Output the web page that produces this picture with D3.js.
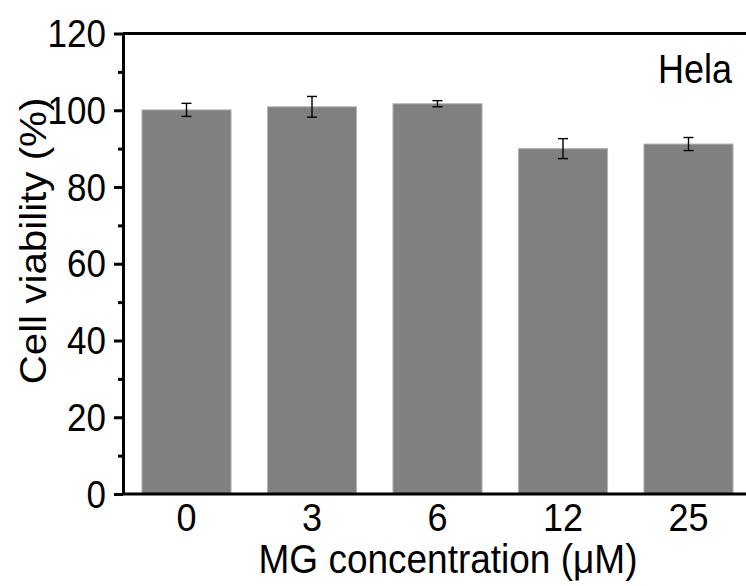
<!DOCTYPE html>
<html>
<head>
<meta charset="utf-8">
<script src="https://cdnjs.cloudflare.com/ajax/libs/d3/7.8.5/d3.min.js"></script>
<style>
  body { margin: 0; background: #fff; }
  svg { display: block; font-family: "Liberation Sans", Arial, sans-serif; }
</style>
</head>
<body>
<div id="chart"></div>
<script>
// data
const concentrations = ["0", "3", "6", "12", "25"];
const viability = [100.1, 100.9, 101.7, 90.0, 91.2];
const errors = [1.7, 2.7, 0.8, 2.6, 1.7];
const yTicks = [0, 20, 40, 60, 80, 100, 120];
const yMinorTicks = [10, 30, 50, 70, 90, 110];

const svgWidth = 746;
const svgHeight = 586;

const margin = { top: 33.5, left: 123, bottom: 494 };

const svg = d3.select("#chart")
  .append("svg")
  .attr("width", svgWidth)
  .attr("height", svgHeight);

const x = d3.scaleBand()
  .domain(concentrations)
  .range([margin.left, 752])
  .paddingInner(0.29)
  .paddingOuter(0.151);

const y = d3.scaleLinear()
  .domain([0, 120])
  .range([margin.bottom, margin.top]);

// bars
svg.selectAll("rect.bar")
  .data(concentrations)
  .enter()
  .append("rect")
  .attr("class", "bar")
  .attr("x", d => x(d))
  .attr("width", x.bandwidth())
  .attr("y", (d, i) => y(viability[i]))
  .attr("height", (d, i) => y(0) - y(viability[i]))
  .attr("fill", "#808080")
  .attr("stroke", "#b4b4b4")
  .attr("stroke-width", 1);

// error bars
const errG = svg.append("g")
  .attr("stroke", "#000")
  .attr("stroke-width", 1.4);

concentrations.forEach((c, i) => {
  const cx = x(c) + x.bandwidth() / 2;
  const hi = y(viability[i] + errors[i]);
  const lo = y(viability[i] - errors[i]);
  errG.append("line").attr("x1", cx).attr("x2", cx).attr("y1", hi).attr("y2", lo);
  errG.append("line").attr("x1", cx - 5).attr("x2", cx + 5).attr("y1", hi).attr("y2", hi);
  errG.append("line").attr("x1", cx - 5).attr("x2", cx + 5).attr("y1", lo).attr("y2", lo);
});

// minor ticks
const minorAxis = svg.append("g")
  .attr("transform", `translate(${margin.left},0)`)
  .call(d3.axisLeft(y).tickValues(yMinorTicks).tickSize(5).tickFormat(""));
minorAxis.select(".domain").remove();
minorAxis.selectAll("line").attr("stroke-width", 3);

// left axis
const leftAxis = svg.append("g")
  .attr("transform", `translate(${margin.left},0)`)
  .call(d3.axisLeft(y).tickValues(yTicks).tickSize(9).tickSizeOuter(0).tickPadding(8));
leftAxis.select(".domain").attr("stroke-width", 3);
leftAxis.selectAll(".tick line").attr("stroke-width", 3);
leftAxis.selectAll(".tick text")
  .attr("font-size", 35)
  .attr("font-family", "Liberation Sans, Arial, sans-serif")
  .attr("fill", "#000")
  .attr("dy", "0.34em")
  .attr("transform", "scale(1,1.1)");

// top and bottom frame lines
svg.append("line")
  .attr("x1", margin.left).attr("x2", 752)
  .attr("y1", y(120)).attr("y2", y(120))
  .attr("stroke", "#000").attr("stroke-width", 3);
svg.append("line")
  .attr("x1", margin.left).attr("x2", 752)
  .attr("y1", y(0)).attr("y2", y(0))
  .attr("stroke", "#000").attr("stroke-width", 3);

// x tick labels
svg.selectAll("text.xlab")
  .data(concentrations)
  .enter()
  .append("text")
  .attr("class", "xlab")
  .attr("text-anchor", "middle")
  .attr("font-size", 36)
  .attr("transform", d => `translate(${x(d) + x.bandwidth() / 2},531) scale(1,1.07)`)
  .text(d => d);

// axis titles
svg.append("text")
  .attr("text-anchor", "middle")
  .attr("font-size", 37)
  .attr("transform", "translate(448,573) scale(1,1.1)")
  .text("MG concentration (\u03bcM)");

svg.append("text")
  .attr("text-anchor", "middle")
  .attr("font-size", 37)
  .attr("transform", "translate(46,241) rotate(-90) scale(1.09,1)")
  .text("Cell viability (%)");

svg.append("text")
  .attr("text-anchor", "end")
  .attr("font-size", 36)
  .attr("transform", "translate(732,83) scale(1,1.12)")
  .text("Hela");
</script>
</body>
</html>
